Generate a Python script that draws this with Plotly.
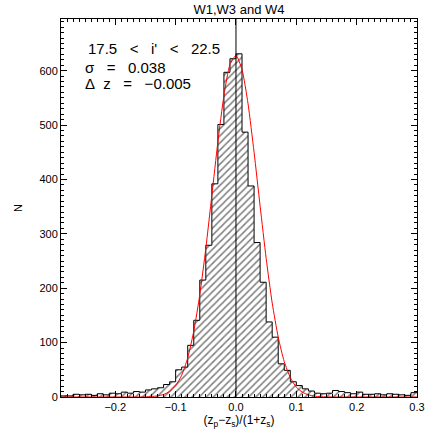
import plotly.graph_objects as go

# bin left edges start and width (bins of 0.01 from -0.29 to 0.30)
bin_start = -0.29
bin_width = 0.01
counts = [2, 2, 5, 4, 5, 3, 6, 4, 7, 6,
          9, 7, 10, 9, 13, 15, 17, 23, 28, 50,
          55, 95, 141, 215, 279, 392, 501, 597, 622, 631,
          487, 388, 284, 211, 138, 110, 61, 49, 28, 21,
          15, 11, 7, 6, 7, 12, 10, 8, 6, 9,
          5, 5, 6, 4, 6, 5, 4, 3, 8]

# red fit curve
fit_x = [-0.29, -0.20, -0.16, -0.15, -0.14, -0.13, -0.12, -0.11, -0.10, -0.09, -0.08, -0.07,
         -0.06, -0.05, -0.04, -0.03, -0.02, -0.01, 0.00, 0.01, 0.02, 0.03, 0.04,
         0.05, 0.06, 0.07, 0.08, 0.09, 0.10, 0.11, 0.12, 0.13, 0.14, 0.15, 0.16, 0.20, 0.30]
fit_y = [0, 0, 0, 0.3, 0.8, 2, 4.7, 10, 21, 40, 72, 121,
         188, 273, 371, 469, 554, 611, 628, 602, 539, 450, 351,
         255, 173, 110, 65, 36, 18, 8.8, 4, 1.6, 0.6, 0.2, 0, 0, 0]

title_text = "W1,W3 and W4"
label_lines = ["17.5\u00a0\u00a0\u00a0<\u00a0\u00a0\u00a0i'\u00a0\u00a0\u00a0<\u00a0\u00a0\u00a022.5",
               "\u03c3\u00a0\u00a0\u00a0=\u00a0\u00a0\u00a00.038",
               "\u0394\u00a0\u00a0z\u00a0\u00a0\u00a0=\u00a0\u00a0\u00a0\u22120.005"]

n = len(counts)
centers = [bin_start + bin_width * (i + 0.5) for i in range(n)]
edges = [bin_start + bin_width * i for i in range(n + 1)]
step_y = counts + [counts[-1]]

FONT = "Liberation Sans, Arial, sans-serif"

fig = go.Figure()
fig.add_trace(go.Bar(
    x=centers, y=counts, width=bin_width,
    marker=dict(color="white", line=dict(width=0),
                pattern=dict(shape="/", fgcolor="black", bgcolor="white",
                             size=5, solidity=0.3)),
    showlegend=False, hoverinfo="skip"))
# step outline
fig.add_trace(go.Scatter(
    x=[edges[0]] + edges, y=[0] + step_y, mode="lines",
    line=dict(color="black", width=1, shape="hv"),
    showlegend=False, hoverinfo="skip"))
fig.add_trace(go.Scatter(
    x=fit_x, y=fit_y, mode="lines",
    line=dict(color="red", width=1, shape="spline", smoothing=0.6),
    showlegend=False, hoverinfo="skip"))

fig.add_shape(type="line", xref="x", yref="paper", x0=0, x1=0, y0=0, y1=1,
              line=dict(color="black", width=1))

for i, t in enumerate(label_lines):
    fig.add_annotation(xref="paper", yref="paper", x=(83 - 61) / 356.0 if i else (86 - 61) / 356.0,
                       y=1 - ([48, 67, 83][i] - 19) / 378.0,
                       text=t, showarrow=False, xanchor="left", yanchor="middle",
                       font=dict(family=FONT, size=15, color="black"))

axis_common = dict(showline=True, linecolor="black", linewidth=1, mirror="allticks",
                   ticks="inside", ticklen=6, tickcolor="black", tickwidth=1,
                   showgrid=False, zeroline=False, automargin=False,
                   tickfont=dict(family=FONT, size=11, color="black"))

fig.update_xaxes(range=[-0.29, 0.30], dtick=0.1, tick0=0, tickformat=".1f",
                 minor=dict(ticks="inside", dtick=0.01, ticklen=3, tickcolor="black", showgrid=False),
                 title=dict(text="(z<sub>p</sub>\u2212z<sub>s</sub>)/(1+z<sub>s</sub>)",
                            font=dict(family=FONT, size=12, color="black"), standoff=2),
                 **axis_common)
fig.update_yaxes(range=[0, 695], dtick=100, tick0=0,
                 minor=dict(ticks="inside", dtick=10, ticklen=3, tickcolor="black", showgrid=False),
                 title=dict(text="N", font=dict(family=FONT, size=11, color="black"), standoff=14),
                 **axis_common)

fig.update_layout(
    width=436, height=436,
    margin=dict(l=61, r=19, t=19, b=39),
    paper_bgcolor="white", plot_bgcolor="white",
    bargap=0,
    title=dict(text=title_text, x=(239) / 436.0, xanchor="center", y=1 - 9 / 436.0, yanchor="middle",
               font=dict(family=FONT, size=13, color="black")),
)

fig.write_html("out.html", config={"displayModeBar": False},
               post_script="document.body.style.margin='0px';")
